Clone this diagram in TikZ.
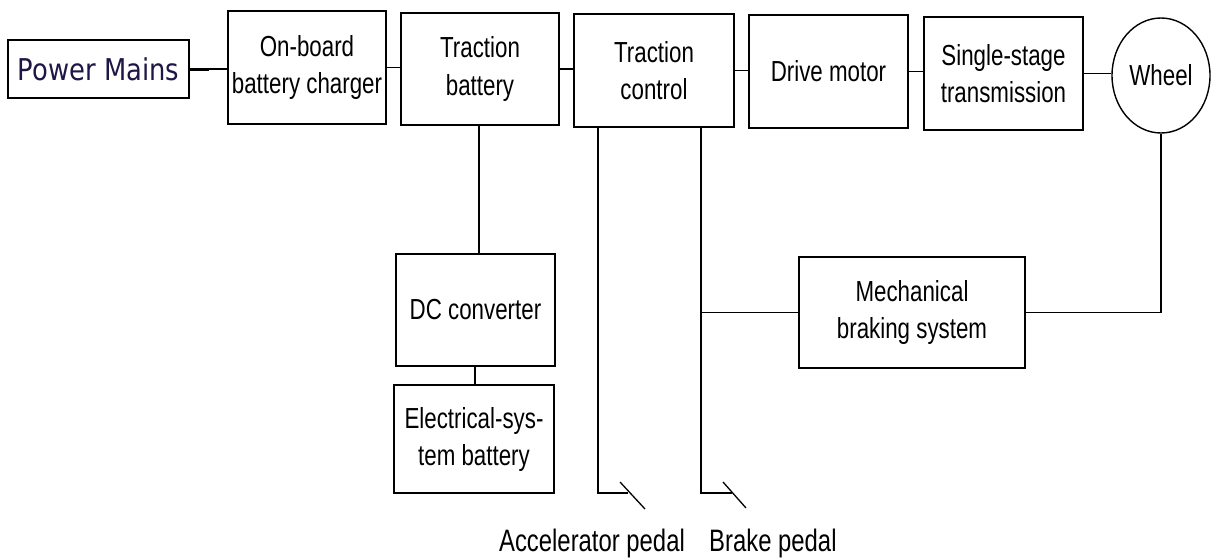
\documentclass[tikz,border=0pt]{standalone}
\usepackage{fontspec}
\setmainfont{Liberation Sans}[FakeStretch=0.77]
\newfontfamily\pmfont{DejaVu Sans}[FakeStretch=0.86]
\definecolor{pmblue}{RGB}{30,22,70}
\usetikzlibrary{shapes.geometric}
\begin{document}
\begin{tikzpicture}[x=1pt,y=-1pt,
  every node/.style={font=\fontsize{29}{37}\selectfont},
  blk/.style={draw,line width=1.5pt,rectangle,inner sep=0pt,align=center},
  conn/.style={line width=1.3pt},
  lbl/.style={font=\fontsize{31}{37}\selectfont}]
\useasboundingbox[fill=white] (0,0) rectangle (1212,557);
\node[blk,minimum width=181pt,minimum height=58pt,line width=1.6pt,font=\pmfont\fontsize{30}{36}\selectfont,text=pmblue] (pm) at (98.5,69) {Power Mains};
\node[blk,minimum width=158pt,minimum height=113pt] (chg) at (307,67.5) {On-board\\battery charger};
\node[blk,minimum width=158pt,minimum height=112pt] (tb) at (480,69) {Traction\\battery};
\node[blk,minimum width=160pt,minimum height=113pt] (tc) at (654,70.5) {Traction\\control};
\node[blk,minimum width=159pt,minimum height=113pt] (dm) at (828.5,71.5) {Drive motor};
\node[blk,minimum width=159pt,minimum height=113pt] (st) at (1003.5,73.5) {Single-stage\\transmission};
\node[draw,ellipse,line width=1.4pt,inner sep=0pt,minimum width=98pt,minimum height=115pt] (wh) at (1161,75.5) {Wheel};
\node[blk,minimum width=159pt,minimum height=112pt] (dc) at (475.5,310) {DC converter};
\node[blk,minimum width=160pt,minimum height=108pt] (esb) at (474,439) {Electrical-sys-\\tem battery};
\node[blk,minimum width=226pt,minimum height=111pt] (mbs) at (912,312.5) {Mechanical\\braking system};
% top chain
\draw[line width=3pt] (pm.east) -- ++(19,0) coordinate (pmj);
\draw[conn] (pmj) -- (pmj -| chg.west);
\draw[conn] (chg.east) -- (chg.east -| tb.west);
\draw[conn] (tb.east) -- (tb.east -| tc.west);
\draw[conn] (tc.east) -- (tc.east -| dm.west);
\draw[conn] (dm.east) -- (dm.east -| st.west);
\draw[conn] (st.east) -- (st.east -| wh.west);
% battery branch
\draw[conn] (tb.south -| 479,0) -- (dc.north -| 479,0);
\draw[conn] (dc.south -| 475,0) -- (esb.north -| 475,0);
% pedals
\coordinate (acc) at (598,493);
\coordinate (brk) at (701,493);
\draw[conn] (tc.south -| acc) -- (acc) -- ++(30,0);
\draw[conn] (tc.south -| brk) -- (brk) -- ++(31,0);
\draw[conn] (620,482) -- (645,509);
\draw[conn] (723,482) -- (746,508);
% braking
\draw[conn] (mbs.west) -- (mbs.west -| brk);
\draw[conn] (wh.south) -- (wh.south |- mbs.east) -- (mbs.east);
% labels
\node[lbl] (al) at (592,543) {Accelerator pedal};
\node[lbl,anchor=west,inner sep=0pt] (bl) at (709,543) {Brake pedal};
\end{tikzpicture}
\end{document}
